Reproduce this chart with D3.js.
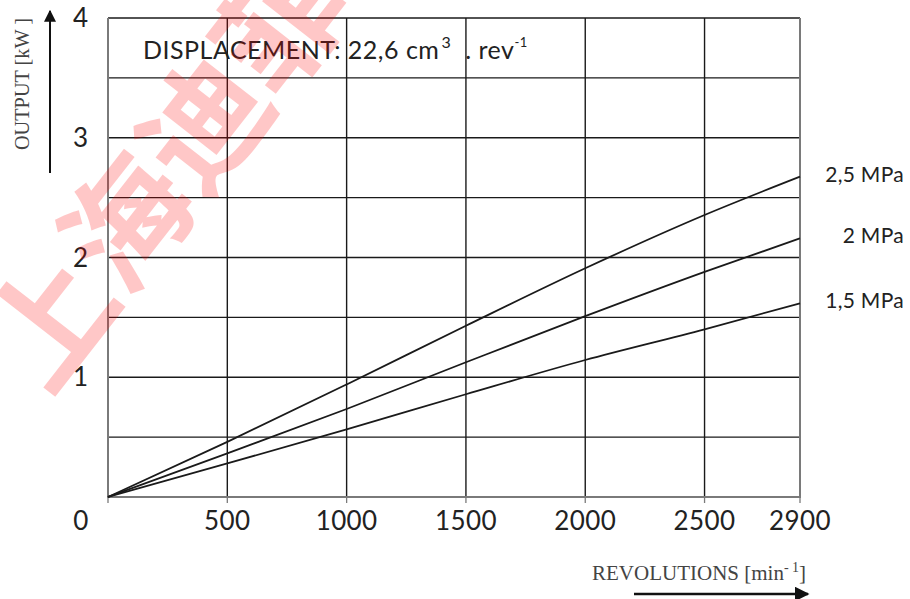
<!DOCTYPE html>
<html>
<head>
<meta charset="utf-8">
<script src="https://cdn.jsdelivr.net/npm/d3@7"></script>
<style>
  body { margin: 0; background: #fff; }
  svg { display: block; }
</style>
</head>
<body>
<svg width="910" height="599"></svg>
<script>
// chart values
var revolutions = [0, 500, 1000, 1500, 2000, 2500, 2900];
var out25 = [0, 0.46, 0.94, 1.43, 1.91, 2.355, 2.675];
var out20 = [0, 0.365, 0.735, 1.125, 1.51, 1.88, 2.16];
var out15 = [0, 0.28, 0.565, 0.858, 1.144, 1.40, 1.618];
var seriesNames = ["2,5 MPa", "2 MPa", "1,5 MPa"];
var xTicks = [0, 500, 1000, 1500, 2000, 2500, 2900];
var yTicks = [1, 2, 3, 4];
var yGrid = [0.5, 1, 1.5, 2, 2.5, 3, 3.5, 4];

var svg = d3.select("svg");
var plotL = 108, plotR = 800, plotT = 18, plotB = 497;

var x = d3.scaleLinear().domain([0, 2900]).range([plotL, plotR]);
var y = d3.scaleLinear().domain([0, 4]).range([plotB, plotT]);

var sans = "Lato, 'Open Sans', sans-serif";
var serif = "'Liberation Serif', 'DejaVu Serif', serif";

// grid
var g = svg.append("g");
g.selectAll("line.h")
  .data(yGrid)
  .enter().append("line")
    .attr("class", "h")
    .attr("x1", plotL).attr("x2", plotR)
    .attr("y1", d => y(d)).attr("y2", d => y(d))
    .attr("stroke", "#1a1a1a").attr("stroke-width", 1.4);
g.selectAll("line.v")
  .data(xTicks.slice(1, -1))
  .enter().append("line")
    .attr("class", "v")
    .attr("x1", d => x(d)).attr("x2", d => x(d))
    .attr("y1", plotT).attr("y2", plotB)
    .attr("stroke", "#1a1a1a").attr("stroke-width", 1.4);

// frame (left, bottom, right are grey)
g.append("path")
  .attr("d", "M" + plotL + "," + plotT + "V" + plotB + "H" + plotR + "V" + plotT)
  .attr("fill", "none").attr("stroke", "#7a7a7a").attr("stroke-width", 2);

// x ticks under the axis
g.selectAll("line.t")
  .data(xTicks)
  .enter().append("line")
    .attr("class", "t")
    .attr("x1", d => x(d)).attr("x2", d => x(d))
    .attr("y1", plotB).attr("y2", plotB + 6)
    .attr("stroke", "#7a7a7a").attr("stroke-width", 1.3);

// tick labels
svg.append("g").selectAll("text")
  .data(xTicks)
  .enter().append("text")
    .attr("x", d => d === 0 ? 81 : x(d))
    .attr("y", 530)
    .attr("text-anchor", "middle")
    .attr("font-family", sans).attr("font-size", 26)
    .attr("letter-spacing", 0.4).attr("fill", "#222")
    .text(d => d);

svg.append("g").selectAll("text")
  .data(yTicks)
  .enter().append("text")
    .attr("x", 88)
    .attr("y", d => y(d) + 9)
    .attr("text-anchor", "end")
    .attr("font-family", sans).attr("font-size", 26)
    .attr("fill", "#222")
    .text(d => d);

// curves
var line = d3.line()
  .x((d, i) => x(revolutions[i]))
  .y(d => y(d))
  .curve(d3.curveMonotoneX);

var series = [out25, out20, out15];
svg.append("g").selectAll("path")
  .data(series)
  .enter().append("path")
    .attr("d", d => line(d))
    .attr("fill", "none").attr("stroke", "#1a1a1a").attr("stroke-width", 1.8);

svg.append("g").selectAll("text")
  .data(series)
  .enter().append("text")
    .attr("x", 904)
    .attr("y", d => y(d[d.length - 1]) + 5)
    .attr("text-anchor", "end")
    .attr("font-family", sans).attr("font-size", 21)
    .attr("letter-spacing", 0.3).attr("fill", "#222")
    .text((d, i) => seriesNames[i]);

// title box text
var title = svg.append("text")
  .attr("x", 143).attr("y", 59)
  .attr("font-family", sans).attr("font-size", 25)
  .attr("letter-spacing", 0.5).attr("fill", "#222");
title.append("tspan").text("DISPLACEMENT: 22,6 cm");
title.append("tspan").attr("font-size", 16).attr("dy", -11).attr("dx", 2).text("3");
title.append("tspan").attr("dy", 11).attr("dx", 14).text(". rev");
title.append("tspan").attr("font-size", 13).attr("dy", -12).text("-1");

// axis titles with arrows
svg.append("defs").append("marker")
  .attr("id", "arr").attr("viewBox", "0 0 10 10")
  .attr("refX", 9).attr("refY", 5)
  .attr("markerWidth", 6).attr("markerHeight", 6)
  .attr("markerUnits", "strokeWidth")
  .attr("orient", "auto")
  .append("path").attr("d", "M0,0L10,5L0,10Z").attr("fill", "#111");

svg.append("line")
  .attr("x1", 50).attr("x2", 50).attr("y1", 173).attr("y2", 11)
  .attr("stroke", "#111").attr("stroke-width", 2)
  .attr("marker-end", "url(#arr)");

svg.append("text")
  .attr("transform", "translate(29,150) rotate(-90)")
  .attr("font-family", serif).attr("font-size", 20).attr("fill", "#444")
  .attr("textLength", 132).attr("lengthAdjust", "spacingAndGlyphs")
  .text("OUTPUT [kW ]");

svg.append("line")
  .attr("x1", 634).attr("x2", 808).attr("y1", 594).attr("y2", 594)
  .attr("stroke", "#111").attr("stroke-width", 2.5)
  .attr("marker-end", "url(#arr)");

var xt = svg.append("text")
  .attr("x", 592).attr("y", 580)
  .attr("font-family", serif).attr("font-size", 21).attr("fill", "#444");
xt.append("tspan").text("REVOLUTIONS [min");
xt.append("tspan").attr("font-size", 14).attr("dy", -8).text("- 1");
xt.append("tspan").attr("dy", 8).text("]");

// watermark
svg.append("text")
  .attr("transform", "translate(48,398) rotate(-52)")
  .attr("font-family", "'Noto Sans CJK SC', sans-serif")
  .attr("font-weight", 700).attr("font-size", 125)
  .attr("fill", "red").attr("fill-opacity", 0.22)
  .text("上海迪菲");
</script>
</body>
</html>
